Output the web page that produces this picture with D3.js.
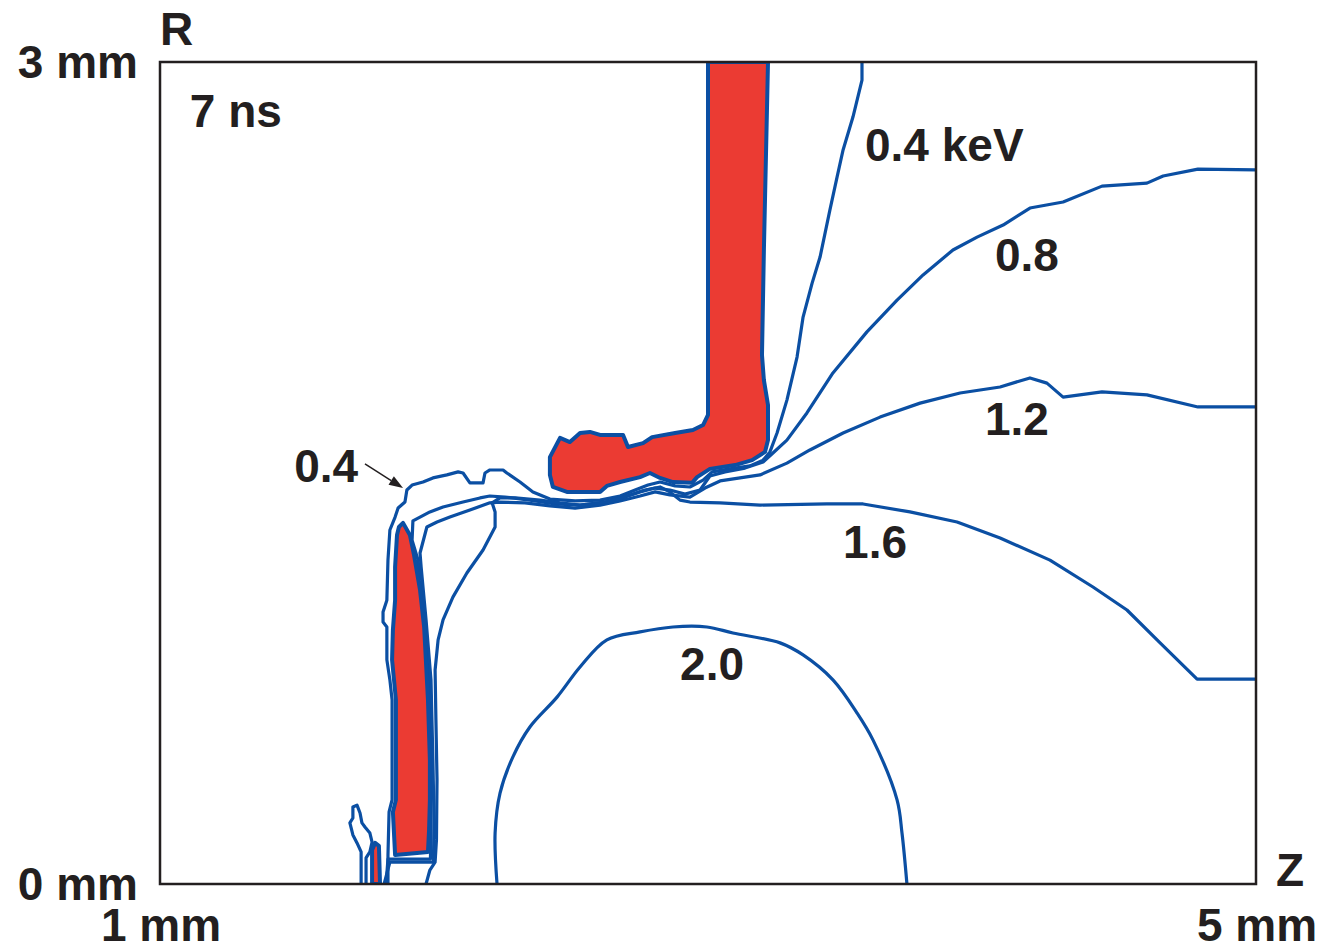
<!DOCTYPE html>
<html>
<head>
<meta charset="utf-8">
<script src="https://cdn.jsdelivr.net/npm/d3@7"></script>
<style>
  html, body { margin: 0; padding: 0; background: #ffffff; }
  svg { display: block; }
  text { font-family: "Liberation Sans", Arial, sans-serif; font-weight: 700; fill: #231f20; }
</style>
</head>
<body>
<svg id="chart" width="1322" height="948"></svg>
<script>
// Axis extents (mm) and tick labels
const zDomain = [1, 5];
const rDomain = [0, 3];
const zTicks = [1, 5];
const rTicks = [0, 3];
const zTickLabels = ["1 mm", "5 mm"];
const rTickLabels = ["0 mm", "3 mm"];

// Electron temperature contours, points as [z (mm), r (mm)]
const contour04 = [
  [3.562,3.000],[3.562,2.934],[3.529,2.799],[3.493,2.679],[3.471,2.580],[3.445,2.460],
  [3.409,2.288],[3.380,2.193],[3.347,2.069],[3.325,1.923],[3.288,1.766],[3.252,1.646],
  [3.226,1.577],[3.201,1.547],[3.153,1.526],[3.080,1.515],[3.015,1.504],[2.982,1.474],
  [2.934,1.449],[2.880,1.453],[2.825,1.467],[2.781,1.456],[2.734,1.438],[2.679,1.416],
  [2.606,1.401],[2.515,1.398],[2.423,1.405],[2.361,1.431],[2.314,1.467],[2.266,1.500],
  [2.252,1.511],[2.204,1.511],[2.186,1.500],[2.179,1.464],[2.131,1.464],[2.106,1.500],
  [2.088,1.504],[2.047,1.493],[1.996,1.482],[1.960,1.467],[1.920,1.456],[1.901,1.438],
  [1.894,1.394],[1.869,1.372],[1.858,1.339],[1.839,1.292],[1.832,1.182],[1.828,1.036],
  [1.814,0.993],[1.814,0.956],[1.828,0.938],[1.828,0.818],[1.839,0.745],[1.847,0.672],
  [1.847,0.307],[1.836,0.263],[1.832,0.106],[1.832,0.000]
];
const contour08 = [
  [5.000,2.606],[4.788,2.609],[4.661,2.584],[4.602,2.558],[4.438,2.547],[4.296,2.489],
  [4.175,2.467],[4.077,2.405],[3.982,2.361],[3.894,2.314],[3.785,2.223],[3.690,2.131],
  [3.580,2.015],[3.456,1.865],[3.361,1.719],[3.288,1.620],[3.237,1.573],[3.201,1.540],
  [3.135,1.518],[3.062,1.504],[3.007,1.489],[2.971,1.438],[2.916,1.423],[2.861,1.438],
  [2.807,1.445],[2.752,1.431],[2.697,1.412],[2.624,1.394],[2.533,1.383],[2.442,1.387],
  [2.350,1.401],[2.259,1.412],[2.204,1.416],[2.168,1.409],[2.106,1.394],[2.033,1.376],
  [1.985,1.358],[1.949,1.339],[1.923,1.325],[1.920,1.255],[1.942,1.182],[1.949,1.109],
  [1.967,0.964],[1.982,0.745],[1.987,0.453],[1.989,0.234],[1.987,0.091],[1.832,0.091],
  [1.825,0.000]
];
const contour12 = [
  [5.000,1.741],[4.788,1.741],[4.602,1.785],[4.438,1.796],[4.296,1.777],[4.237,1.828],
  [4.175,1.847],[4.066,1.814],[3.920,1.792],[3.774,1.755],[3.628,1.704],[3.493,1.646],
  [3.372,1.584],[3.288,1.536],[3.190,1.493],[3.117,1.482],[3.044,1.471],[2.989,1.445],
  [2.934,1.412],[2.861,1.420],[2.807,1.431],[2.752,1.416],[2.679,1.398],[2.606,1.383],
  [2.515,1.372],[2.423,1.380],[2.332,1.391],[2.241,1.394],[2.204,1.391],[2.131,1.365],
  [2.058,1.339],[2.011,1.321],[1.974,1.303],[1.949,1.208],[1.953,1.157],[1.971,0.964],
  [1.989,0.745],[1.996,0.453],[2.000,0.234],[1.998,0.080],[1.839,0.080],[1.818,0.000]
];
const contour16 = [
  [5.000,0.748],[4.785,0.748],[4.650,0.880],[4.529,1.000],[4.405,1.084],[4.248,1.182],
  [4.066,1.263],[3.909,1.321],[3.737,1.358],[3.566,1.387],[3.434,1.387],[3.190,1.383],
  [3.044,1.391],[2.934,1.394],[2.898,1.401],[2.861,1.431],[2.825,1.449],[2.770,1.438],
  [2.715,1.420],[2.661,1.401],[2.606,1.391],[2.533,1.383],[2.460,1.391],[2.387,1.401],
  [2.296,1.409],[2.241,1.409],[2.212,1.391],[2.223,1.358],[2.223,1.303],[2.179,1.219],
  [2.120,1.135],[2.069,1.047],[2.033,0.964],[2.015,0.891],[2.004,0.781],[2.007,0.599],
  [2.011,0.380],[2.009,0.161],[2.004,0.080],[1.985,0.051],[1.971,0.000]
];
const contour20 = [
  [2.230,0.000],[2.223,0.186],[2.241,0.332],[2.288,0.464],[2.350,0.573],[2.449,0.682],
  [2.533,0.792],[2.631,0.891],[2.752,0.920],[2.872,0.938],[2.996,0.938],[3.091,0.916],
  [3.263,0.880],[3.347,0.836],[3.456,0.745],[3.544,0.624],[3.602,0.526],[3.690,0.307],
  [3.708,0.186],[3.726,0.000]
];
const contourSmall = [
  [1.734,0.000],[1.734,0.117],[1.719,0.150],[1.704,0.179],[1.693,0.223],[1.704,0.241],
  [1.704,0.281],[1.719,0.288],[1.730,0.259],[1.737,0.223],[1.748,0.208],[1.766,0.186],
  [1.774,0.153],[1.766,0.117],[1.752,0.095],[1.752,0.000]
];

// Dense wall material regions, [z (mm), r (mm)]
const wallUpper = [
  [3.000,3.000],[3.219,3.000],[3.212,2.679],[3.204,2.314],[3.197,1.931],[3.204,1.839],
  [3.219,1.748],[3.219,1.620],[3.208,1.577],[3.161,1.547],[3.099,1.529],[3.007,1.515],
  [2.960,1.485],[2.942,1.464],[2.872,1.467],[2.825,1.482],[2.788,1.500],[2.752,1.485],
  [2.679,1.467],[2.631,1.453],[2.606,1.431],[2.485,1.431],[2.434,1.449],[2.423,1.493],
  [2.423,1.558],[2.460,1.628],[2.496,1.613],[2.533,1.646],[2.569,1.650],[2.606,1.639],
  [2.690,1.639],[2.708,1.595],[2.763,1.609],[2.796,1.631],[2.880,1.646],[2.945,1.657],
  [2.982,1.675],[3.000,1.712]
];
const wallLeft = [
  [1.887,1.318],[1.912,1.274],[1.927,1.201],[1.949,1.073],[1.964,0.938],[1.978,0.672],
  [1.985,0.453],[1.985,0.307],[1.982,0.197],[1.978,0.117],[1.858,0.106],[1.850,0.263],
  [1.861,0.307],[1.861,0.672],[1.854,0.745],[1.847,0.818],[1.850,0.927],[1.858,1.036],
  [1.858,1.157],[1.865,1.274],[1.872,1.303]
];
const wallSliver = [
  [1.774,0.000],[1.774,0.124],[1.785,0.150],[1.799,0.139],[1.803,0.000]
];

// Contour labels: text, z, r (baseline start)
const labelText = ["0.4 keV", "0.8", "1.2", "1.6", "2.0", "7 ns"];
const labelZ = [3.573, 4.047, 4.011, 3.493, 2.898, 1.109];
const labelR = [2.639, 2.237, 1.639, 1.190, 0.745, 2.763];

// Pointer to the left 0.4 keV branch
const pointerFrom = [1.748, 1.533];
const pointerTo = [1.887, 1.445];
const pointerLabel = { text: "0.4", z: 1.723, r: 1.467 };

const BLUE = "#0b4fa3";
const RED = "#eb3b33";
const INK = "#231f20";

const svg = d3.select("#chart");
const x = d3.scaleLinear().domain(zDomain).range([160, 1256]);
const y = d3.scaleLinear().domain(rDomain).range([884, 62]);

svg.append("defs").append("clipPath").attr("id", "plotClip")
  .append("rect").attr("x", 160).attr("y", 62).attr("width", 1096).attr("height", 822);

const lineSharp = d3.line().x(d => x(d[0])).y(d => y(d[1])).curve(d3.curveLinear);
const lineSmooth = d3.line().x(d => x(d[0])).y(d => y(d[1])).curve(d3.curveCatmullRom.alpha(0.5));
const area = d3.line().x(d => x(d[0])).y(d => y(d[1])).curve(d3.curveLinearClosed);

const plot = svg.append("g").attr("clip-path", "url(#plotClip)");

// contour lines
[
  [contour04, lineSharp], [contour08, lineSharp], [contour12, lineSharp],
  [contour16, lineSharp], [contour20, lineSmooth], [contourSmall, lineSharp]
].forEach(([c, gen]) => {
  plot.append("path").attr("d", gen(c))
    .attr("fill", "none").attr("stroke", BLUE).attr("stroke-width", 3.2)
    .attr("stroke-linejoin", "round").attr("stroke-linecap", "round");
});

// wall regions
[wallUpper, wallLeft, wallSliver].forEach(w => {
  plot.append("path").attr("d", area(w))
    .attr("fill", RED).attr("stroke", BLUE).attr("stroke-width", 4)
    .attr("stroke-linejoin", "round");
});

// frame
svg.append("rect").attr("x", 160).attr("y", 62).attr("width", 1096).attr("height", 822)
  .attr("fill", "none").attr("stroke", INK).attr("stroke-width", 2.5);

const FS = 46;

// r tick labels
rTicks.forEach((t, i) => {
  svg.append("text").attr("x", 138).attr("y", y(t) + 16)
    .attr("text-anchor", "end").attr("font-size", FS).text(rTickLabels[i]);
});
// z tick labels
zTicks.forEach((t, i) => {
  svg.append("text").attr("x", x(t) + 1).attr("y", 941)
    .attr("text-anchor", "middle").attr("font-size", FS).text(zTickLabels[i]);
});
// axis names
svg.append("text").attr("x", 160).attr("y", 45).attr("font-size", FS).text("R");
svg.append("text").attr("x", 1276).attr("y", 886).attr("font-size", FS).text("Z");

// contour labels
labelText.forEach((t, i) => {
  svg.append("text").attr("x", x(labelZ[i])).attr("y", y(labelR[i]))
    .attr("font-size", FS).text(t);
});

// pointer
svg.append("text").attr("x", x(pointerLabel.z)).attr("y", y(pointerLabel.r))
  .attr("text-anchor", "end").attr("font-size", FS).text(pointerLabel.text);
const x0 = x(pointerFrom[0]), y0 = y(pointerFrom[1]);
const x1 = x(pointerTo[0]), y1 = y(pointerTo[1]);
const ang = Math.atan2(y1 - y0, x1 - x0);
const hl = 14, hw = 5;
const bx = x1 - hl * Math.cos(ang), by = y1 - hl * Math.sin(ang);
svg.append("line").attr("x1", x0).attr("y1", y0).attr("x2", bx).attr("y2", by)
  .attr("stroke", INK).attr("stroke-width", 1.5);
svg.append("path")
  .attr("d", `M${x1},${y1}L${bx + hw * Math.sin(ang)},${by - hw * Math.cos(ang)}L${bx - hw * Math.sin(ang)},${by + hw * Math.cos(ang)}Z`)
  .attr("fill", INK);
</script>
</body>
</html>
